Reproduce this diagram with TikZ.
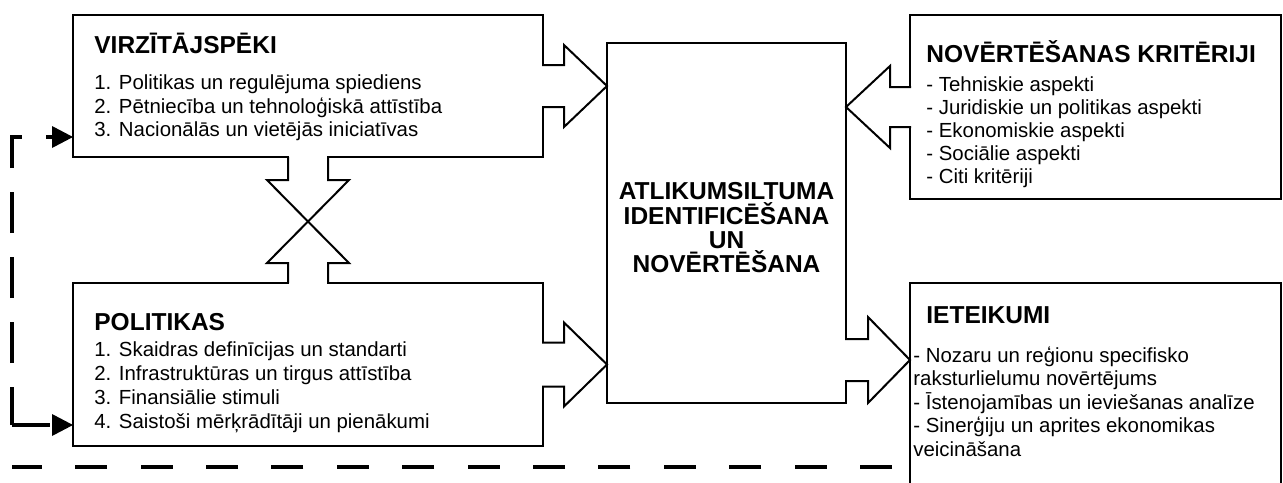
\documentclass[tikz,border=0pt]{standalone}
\usepackage{fontspec}
\setmainfont{Liberation Sans}
\usetikzlibrary{positioning,calc,arrows.meta}

\tikzset{
  box/.style={draw, line width=1pt, rectangle, inner sep=0pt, outer sep=0pt, anchor=north west},
  heading/.style={font=\fontsize{12.25pt}{12.15pt}\selectfont\bfseries, inner sep=0pt, anchor=base west},
  item/.style={font=\fontsize{10.2pt}{11.85pt}\selectfont, inner sep=0pt, anchor=base west},
  blockarrow/.style={draw, line width=1pt, fill=white, line join=miter},
  feedback/.style={line width=1.75pt, dash pattern=on 20.5pt off 12pt, dash phase=1.5pt},
  fbtip/.style={-{Triangle[length=10.5pt, width=11pt, line width=0pt]}},
}

\begin{document}
\begin{tikzpicture}[x=0.5pt, y=-0.5pt]
  \useasboundingbox (0,0) rectangle (1283,482);
  \clip (0,0) rectangle (1283,482);

  % boxes
  \node[box, minimum width=235pt, minimum height=71pt] (virz) at (73,15) {};
  \node[box, minimum width=235pt, minimum height=81.5pt] (pol) at (73,283) {};
  \node[box, minimum width=119.5pt, minimum height=180pt] (centre) at (607,43) {};
  \node[box, minimum width=185.5pt, minimum height=92pt] (krit) at (910,15) {};
  \node[box, minimum width=185.5pt, minimum height=113.5pt] (ieteik) at (910,283) {};

  % texts
  \node[heading] (virz-title) at ($(virz.north west)+(21,38)$) {VIRZĪTĀJSPĒKI};
  \foreach \txt [count=\i] in {1. Politikas un regulējuma spiediens,
      2. Pētniecība un tehnoloģiskā attīstība,
      3. Nacionālās un vietējās iniciatīvas}
    \node[item] (virz-\i) at ($(virz.north west)+(21,51+23.5*\i)$) {\txt};

  \node[heading] (pol-title) at ($(pol.north west)+(21,47)$) {POLITIKAS};
  \foreach \txt [count=\i] in {1. Skaidras definīcijas un standarti,
      2. Infrastruktūras un tirgus attīstība,
      3. Finansiālie stimuli,
      4. Saistoši mērķrādītāji un pienākumi}
    \node[item] (pol-\i) at ($(pol.north west)+(21,49+24*\i)$) {\txt};

  \node[heading] (krit-title) at ($(krit.north west)+(16,47)$) {NOVĒRTĒŠANAS KRITĒRIJI};
  \foreach \txt [count=\i] in {- Tehniskie aspekti,
      - Juridiskie un politikas aspekti,
      - Ekonomiskie aspekti,
      - Sociālie aspekti,
      - Citi kritēriji}
    \node[item] (krit-\i) at ($(krit.north west)+(16,53+23*\i)$) {\txt};

  \node[heading] (ieteik-title) at ($(ieteik.north west)+(16,40)$) {IETEIKUMI};
  \foreach \txt [count=\i] in {- Nozaru un reģionu specifisko,
      raksturlielumu novērtējums,
      - Īstenojamības un ieviešanas analīze,
      - Sinerģiju un aprites ekonomikas,
      veicināšana}
    \node[item] (ieteik-\i) at ($(ieteik.north west)+(3,55.5+23.6*\i)$) {\txt};

  \node[heading, anchor=center, align=center] (centre-text) at ($(centre.center)+(0,5)$)
    {ATLIKUMSILTUMA\\IDENTIFICĒŠANA\\UN\\NOVĒRTĒŠANA};

  % block arrows into and out of the centre
  \path[blockarrow] ($(virz.east)+(-1,-21)$) -- ++(22,0) -- ++(0,-20) -- (centre.west |- virz.east)
    -- ($(virz.east)+(21,41)$) -- ++(0,-20) -- ++(-22,0);
  \path[blockarrow] ($(pol.east)+(-1,-22)$) -- ++(22,0) -- ++(0,-20) -- (centre.west |- pol.east)
    -- ($(pol.east)+(21,42)$) -- ++(0,-20) -- ++(-22,0);
  \path[blockarrow] ($(krit.west)+(1,-20)$) -- ++(-21,0) -- ++(0,-21) -- (centre.east |- krit.west)
    -- ($(krit.west)+(-20,41)$) -- ++(0,-21) -- ++(21,0);
  \coordinate (ietin) at ($(ieteik.north west)+(0,77)$);
  \path[blockarrow] ($(centre.east |- ietin)+(-1,-21)$) -- ++(23,0) -- ++(0,-22) -- (ietin)
    -- ($(centre.east |- ietin)+(22,43)$) -- ++(0,-22) -- ++(-23,0);

  % crossed arrows between the left boxes
  \fill[white] ($(virz.south)+(-19,-2)$) rectangle ($(virz.south)+(19,2)$);
  \fill[white] ($(pol.north)+(-19,-2)$) rectangle ($(pol.north)+(19,2)$);
  \draw[line width=1pt] ($(virz.south)+(-20,0)$) -- ++(0,23) -- ++(-21,0)
    -- ($(pol.north)+(41,-20)$) -- ++(-21,0) -- ++(0,20);
  \draw[line width=1pt] ($(virz.south)+(20,0)$) -- ++(0,23) -- ++(21,0)
    -- ($(pol.north)+(-41,-20)$) -- ++(21,0) -- ++(0,20);

  % feedback loop
  \coordinate (fbcorner) at (12,425);
  \coordinate (vin) at ($(virz.south west)+(0,-20)$);
  \coordinate (pin) at ($(pol.south west)+(0,-21)$);
  \coordinate (fbright) at (892,466.5);
  \coordinate (fbleft) at (12,466.5);
  \draw[feedback, fbtip] (fbcorner) |- (vin);
  \draw[feedback, fbtip] (fbcorner) -- (pin);
  \draw[feedback, line width=2pt, dash pattern=on 16pt off 16.7pt, dash phase=0pt] (fbright) -- (fbleft);
\end{tikzpicture}
\end{document}
